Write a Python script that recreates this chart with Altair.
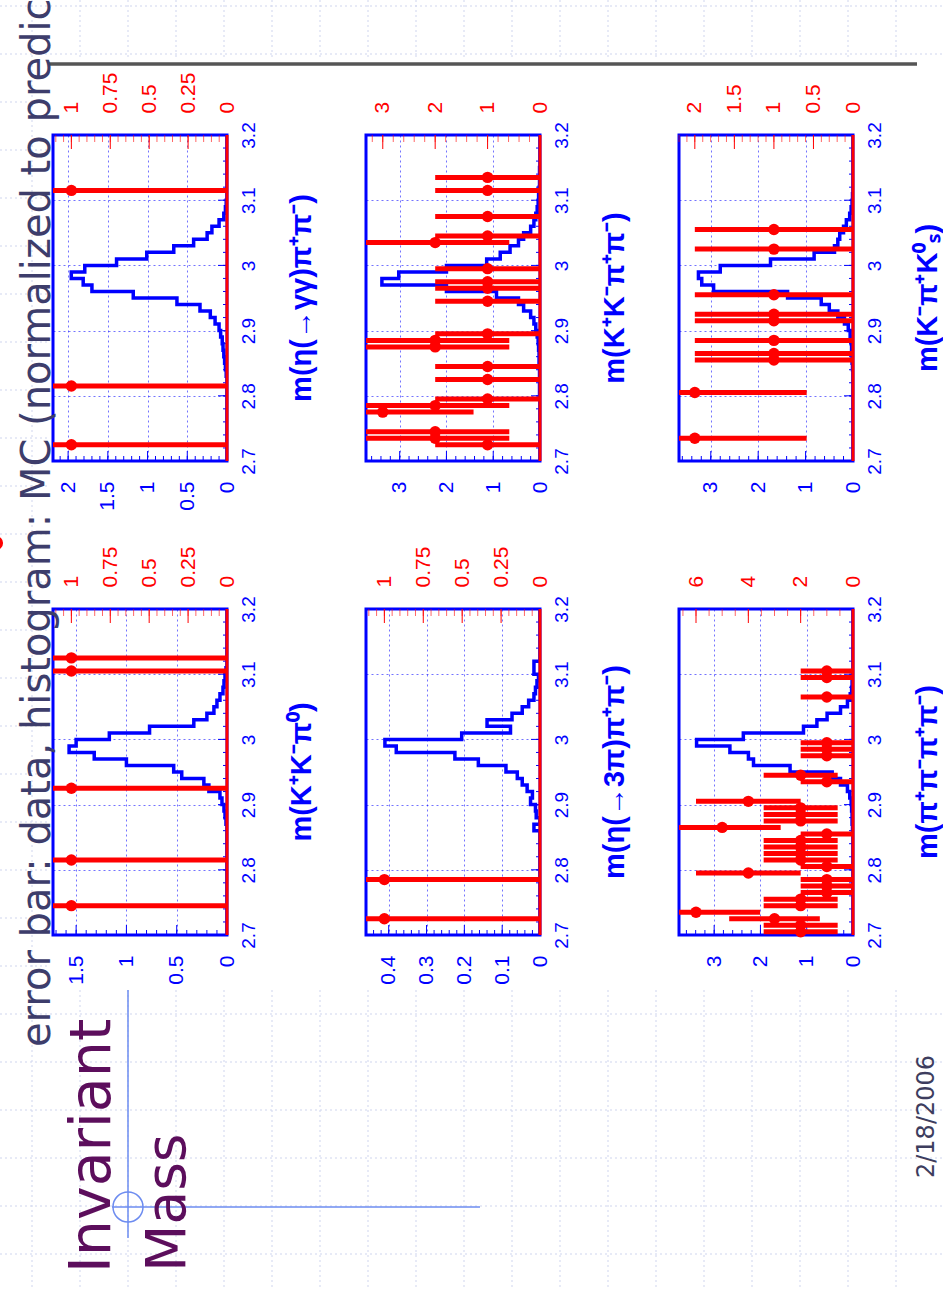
import altair as alt

# ---------------- data ----------------
MASS_MIN, MASS_MAX, BIN_W = 2.7, 3.2, 0.01
MASS_LABELS = [2.7, 2.8, 2.9, 3.0, 3.1, 3.2]

titles = ["m(η(→γγ)π⁺π⁻)", "m(K⁺K⁻π⁺π⁻)", "m(K⁻π⁺K⁰ₛ)",
          "m(K⁺K⁻π⁰)", "m(η(→3π)π⁺π⁻)", "m(π⁺π⁻π⁺π⁻)"]

# MC histograms: 50 bins of width 0.01 starting at 2.70
mc_eta_gg = [0, 0, 0, 0, 0, 0, 0, 0, 0, 0,
             0, 0, 0, 0.01, 0.02, 0.03, 0.04, 0.05, 0.06, 0.08,
             0.10, 0.15, 0.21, 0.34, 0.63, 1.18, 1.70, 1.81, 1.96, 1.79,
             1.39, 1.01, 0.67, 0.42, 0.25, 0.19, 0.10, 0.04, 0.02, 0.01,
             0, 0, 0, 0, 0, 0, 0, 0, 0, 0]
mc_kkpipi = [0, 0, 0, 0, 0, 0, 0, 0, 0, 0,
             0.01, 0.01, 0.01, 0.01, 0.01, 0.02, 0.02, 0.03, 0.04, 0.06,
             0.09, 0.13, 0.20, 0.35, 0.46, 0.93, 2.00, 3.38, 3.02, 2.00,
             1.14, 0.85, 0.64, 0.46, 0.35, 0.20, 0.13, 0.09, 0.06, 0.04,
             0.03, 0.02, 0.01, 0.01, 0.01, 0, 0, 0, 0, 0]
mc_kpiks = [0, 0, 0, 0, 0, 0, 0, 0, 0, 0,
            0, 0, 0, 0, 0.01, 0.02, 0.02, 0.03, 0.04, 0.06,
            0.10, 0.18, 0.32, 0.50, 0.67, 1.38, 2.94, 3.19, 3.26, 2.80,
            1.74, 0.82, 0.39, 0.32, 0.28, 0.20, 0.14, 0.07, 0.04, 0.02,
            0.01, 0, 0, 0, 0, 0, 0, 0, 0, 0]
mc_kkpi0 = [0, 0, 0, 0, 0, 0, 0, 0, 0, 0,
            0, 0, 0, 0, 0, 0, 0, 0.01, 0.02, 0.03,
            0.05, 0.07, 0.18, 0.23, 0.45, 0.53, 1.00, 1.32, 1.57, 1.50,
            1.17, 0.77, 0.33, 0.20, 0.13, 0.10, 0.07, 0.04, 0.03, 0.02,
            0.01, 0, 0, 0, 0, 0, 0, 0, 0, 0]
mc_eta3pi = [0, 0, 0, 0, 0, 0, 0, 0, 0, 0,
             0, 0, 0, 0, 0, 0, 0.016, 0, 0.010, 0.012,
             0.025, 0.020, 0.034, 0.047, 0.060, 0.090, 0.163, 0.225, 0.380, 0.410,
             0.207, 0.078, 0.140, 0.074, 0.047, 0.030, 0.016, 0.012, 0.008, 0.004,
             0.016, 0.016, 0, 0, 0, 0, 0, 0, 0, 0]
mc_4pi = [0, 0, 0, 0, 0, 0, 0, 0, 0, 0,
          0, 0, 0, 0, 0, 0, 0.01, 0.02, 0.02, 0.03,
          0.04, 0.07, 0.12, 0.27, 0.45, 1.36, 2.15, 2.26, 2.66, 3.38,
          2.37, 1.07, 0.78, 0.56, 0.27, 0.12, 0.06, 0.03, 0.02, 0.01,
          0, 0, 0, 0, 0, 0, 0, 0, 0, 0]

# data points: bin-centre mass and number of events
pts_eta_gg_m = [2.725, 2.815, 3.115]
pts_eta_gg_n = [1, 1, 1]
pts_kkpipi_m = [2.725, 2.735, 2.745, 2.775, 2.785, 2.795, 2.825, 2.845, 2.875, 2.885,
                2.895, 2.945, 2.965, 2.975, 2.995, 3.035, 3.045, 3.075, 3.115, 3.135]
pts_kkpipi_n = [1, 2, 2, 3, 2, 1, 1, 1, 2, 2, 1, 1, 1, 1, 1, 2, 1, 1, 1, 1]
pts_kpiks_m = [2.735, 2.805, 2.855, 2.865, 2.885, 2.915, 2.925, 2.955, 3.025, 3.055]
pts_kpiks_n = [2, 2, 1, 1, 1, 1, 1, 1, 1, 1]
pts_kkpi0_m = [2.745, 2.815, 2.925, 3.105, 3.125]
pts_kkpi0_n = [1, 1, 1, 1, 1]
pts_eta3pi_m = [2.725, 2.785]
pts_eta3pi_n = [1, 1]
pts_4pi_m = [2.705, 2.715, 2.725, 2.735, 2.745, 2.755, 2.765, 2.775, 2.785, 2.795,
             2.805, 2.815, 2.825, 2.835, 2.845, 2.855, 2.865, 2.875, 2.885, 2.895,
             2.905, 2.935, 2.945, 2.975, 2.985, 2.995, 3.065, 3.095, 3.105]
pts_4pi_n = [2, 2, 3, 6, 2, 2, 1, 1, 1, 4, 1, 2, 2, 2, 2, 1, 5, 2, 2, 2,
             4, 1, 2, 1, 1, 1, 1, 1, 1]

# axis ranges and tick labels
blue_max = [2.19, 3.72, 3.67, 1.73, 0.46, 3.76]
red_max = [1.118, 3.32, 2.2, 1.118, 1.118, 6.65]
blue_labels = [[0, 0.5, 1, 1.5, 2], [0, 1, 2, 3], [0, 1, 2, 3],
               [0, 0.5, 1, 1.5], [0, 0.1, 0.2, 0.3, 0.4], [0, 1, 2, 3]]
blue_minor = [0.1, 0.2, 0.2, 0.1, 0.02, 0.2]
red_labels = [[0, 0.25, 0.5, 0.75, 1], [0, 1, 2, 3], [0, 0.5, 1, 1.5, 2],
              [0, 0.25, 0.5, 0.75, 1], [0, 0.25, 0.5, 0.75, 1], [0, 2, 4, 6]]
red_minor = [0.05, 0.2, 0.1, 0.05, 0.05, 0.5]

mc_all = [mc_eta_gg, mc_kkpipi, mc_kpiks, mc_kkpi0, mc_eta3pi, mc_4pi]
pm_all = [pts_eta_gg_m, pts_kkpipi_m, pts_kpiks_m, pts_kkpi0_m, pts_eta3pi_m, pts_4pi_m]
pn_all = [pts_eta_gg_n, pts_kkpipi_n, pts_kpiks_n, pts_kkpi0_n, pts_eta3pi_n, pts_4pi_n]

# ---------------- style / layout ----------------
W, H = 174, 326
BLUE, RED = "#0000ff", "#ff0000"
FONT = "Liberation Sans"
SLIDE_FONT = "DejaVu Sans"
CNT_LBL = 21
MASS_LBL = 19
FMT = ".2~f"


def steps(maxv, step):
    n = int(maxv / step + 1e-9)
    return [round(k * step, 4) for k in range(n + 1)]


def mass_y(field, with_axis=False):
    kw = {}
    if with_axis:
        kw["axis"] = alt.Axis(orient="right", values=MASS_LABELS, format=FMT, labelAngle=270,
                              labelAlign="center", labelBaseline="top", labelPadding=12,
                              labelColor=BLUE, labelFontSize=MASS_LBL, labelFont=FONT,
                              grid=True, gridColor=BLUE, gridDash=[2, 3], gridOpacity=0.55,
                              gridWidth=1, domain=False, ticks=False, labelOverlap=False,
                              labelFlush=False)
    return alt.Y(f"{field}:Q", scale=alt.Scale(domain=[MASS_MIN, MASS_MAX], nice=False, zero=False),
                 title="", **kw)


def blue_x(field, i, with_axis=False):
    kw = {}
    if with_axis:
        kw["axis"] = alt.Axis(orient="bottom", values=blue_labels[i], format=FMT, labelAngle=270,
                              labelAlign="right", labelBaseline="middle", labelPadding=20,
                              labelColor=BLUE, labelFontSize=CNT_LBL, labelFont=FONT,
                              grid=True, gridColor=BLUE, gridDash=[2, 3], gridOpacity=0.55,
                              gridWidth=1, domain=False, ticks=False, labelOverlap=False,
                              labelFlush=False)
    return alt.X(f"{field}:Q", scale=alt.Scale(domain=[0, blue_max[i]], reverse=True, nice=False),
                 title="", **kw)


def red_x(field, i, with_axis=False):
    kw = {}
    if with_axis:
        kw["axis"] = alt.Axis(orient="top", values=red_labels[i], format=FMT, labelAngle=270,
                              labelAlign="left", labelBaseline="middle", labelPadding=22,
                              labelColor=RED, labelFontSize=CNT_LBL, labelFont=FONT,
                              grid=False, domain=False, ticks=False, labelOverlap=False,
                              labelFlush=False)
    return alt.X(f"{field}:Q", scale=alt.Scale(domain=[0, red_max[i]], reverse=True, nice=False),
                 title="", **kw)


def hist_rows(counts):
    rows = []
    for k, c in enumerate(counts):
        lo = round(MASS_MIN + k * BIN_W, 3)
        rows.append({"k": 2 * k, "m": lo, "c": c})
        rows.append({"k": 2 * k + 1, "m": round(lo + BIN_W, 3), "c": c})
    return rows


def vals(lst):
    return alt.Data(values=[{"v": v} for v in lst])


def make_panel(i):
    hist = alt.Chart(alt.Data(values=hist_rows(mc_all[i]))).mark_line(
        color=BLUE, strokeWidth=3.5, clip=True).encode(
        x=blue_x("c", i, True), y=mass_y("m", True), order="k:Q")
    bmin = alt.Chart(vals(steps(blue_max[i], blue_minor[i]))).mark_rule(
        color=BLUE, strokeWidth=1).encode(x=blue_x("v", i), y=alt.value(H), y2=alt.value(H - 5))
    bmaj = alt.Chart(vals(blue_labels[i])).mark_rule(
        color=BLUE, strokeWidth=1).encode(x=blue_x("v", i), y=alt.value(H), y2=alt.value(H - 10))
    mmin = alt.Chart(vals(steps(MASS_MAX - MASS_MIN, 0.02))).transform_calculate(
        w="datum.v + 2.7").mark_rule(color=BLUE, strokeWidth=1).encode(
        y=mass_y("w"), x=alt.value(W), x2=alt.value(W - 4))
    mmaj = alt.Chart(vals(MASS_LABELS)).mark_rule(color=BLUE, strokeWidth=1).encode(
        y=mass_y("v"), x=alt.value(W), x2=alt.value(W - 9))
    blue_layer = alt.layer(hist, bmin, bmaj, mmin, mmaj)

    zero = alt.Chart(alt.Data(values=[{"z": 0, "a": MASS_MIN, "b": MASS_MAX}])).mark_rule(
        color=RED, strokeWidth=3).encode(x=red_x("z", i), y=mass_y("a"), y2=alt.Y2("b"))
    rows = [{"m": m, "n": n} for m, n in zip(pm_all[i], pn_all[i])]
    err = alt.Chart(alt.Data(values=rows)).transform_calculate(
        lo="datum.n - sqrt(datum.n)", hi="datum.n + sqrt(datum.n)").mark_rule(
        color=RED, strokeWidth=5, clip=True).encode(
        x=red_x("lo", i), x2=alt.X2("hi"), y=mass_y("m"))
    dots = alt.Chart(alt.Data(values=rows)).mark_circle(color=RED, size=130, opacity=1).encode(
        x=red_x("n", i, True), y=mass_y("m"))
    rmin = alt.Chart(vals(steps(red_max[i], red_minor[i]))).mark_rule(
        color=RED, strokeWidth=1, opacity=0.6).encode(x=red_x("v", i), y=alt.value(0), y2=alt.value(7))
    rmaj = alt.Chart(vals(red_labels[i])).mark_rule(
        color=RED, strokeWidth=1).encode(x=red_x("v", i), y=alt.value(0), y2=alt.value(14))
    red_layer = alt.layer(zero, err, dots, rmin, rmaj)

    label = alt.Chart(alt.Data(values=[{"t": titles[i]}])).mark_text(
        angle=270, align="center", baseline="alphabetic", font=FONT, fontSize=29,
        fontWeight="bold", color=BLUE).encode(text="t:N", x=alt.value(W + 84), y=alt.value(H / 2))

    return alt.layer(blue_layer, red_layer, label).resolve_scale(x="independent").properties(
        width=W, height=H)


# ---------------- slide decorations ----------------
OX, OY = 53, 1083  # origin of the decoration cell (3rd row, 1st column)
one = alt.Data(values=[{"a": 1}])

grid_rows = []
for gx in range(32, 944, 48):
    if gx < 48:
        grid_rows.append({"x": gx - OX, "x2": gx - OX, "y": -OY, "y2": 1289 - OY})
    else:
        grid_rows.append({"x": gx - OX, "x2": gx - OX, "y": -OY, "y2": 60 - OY})
        grid_rows.append({"x": gx - OX, "x2": gx - OX, "y": 990 - OY, "y2": 1289 - OY})
for gy in range(6, 1290, 48):
    if gy < 62 or gy > 990:
        grid_rows.append({"x": -OX, "x2": 943 - OX, "y": gy - OY, "y2": gy - OY})
    else:
        grid_rows.append({"x": -OX, "x2": 48 - OX, "y": gy - OY, "y2": gy - OY})

slide_grid = alt.Chart(alt.Data(values=grid_rows)).mark_rule(
    color="#cfd5ee", strokeWidth=1, strokeDash=[2, 3]).encode(
    x=alt.X("x:Q", scale=None, axis=None), x2=alt.X2("x2"),
    y=alt.Y("y:Q", scale=None, axis=None), y2=alt.Y2("y2"))

gray_line = alt.Chart(one).mark_rule(color="#555555", strokeWidth=3.5).encode(
    x=alt.value(48 - OX), x2=alt.value(917 - OX), y=alt.value(64 - OY))
blue_v = alt.Chart(one).mark_rule(color="#6d8cf0", strokeWidth=1.5).encode(
    x=alt.value(128 - OX), y=alt.value(990 - OY), y2=alt.value(1238 - OY))
blue_h = alt.Chart(one).mark_rule(color="#6d8cf0", strokeWidth=1.5).encode(
    x=alt.value(112 - OX), x2=alt.value(480 - OX), y=alt.value(1207 - OY))
ring = alt.Chart(one).mark_point(shape="circle", filled=False, size=900, color="#6d8cf0",
                                 strokeWidth=1.5, opacity=1).encode(
    x=alt.value(128 - OX), y=alt.value(1207 - OY))
bullet = alt.Chart(one).mark_circle(color=RED, size=200, opacity=1).encode(
    x=alt.value(-4 - OX), y=alt.value(543 - OY))

title_txt = alt.Chart(one).mark_text(
    angle=270, align="left", baseline="alphabetic", font=SLIDE_FONT, fontSize=40,
    color="#3d3d6b").encode(
    text=alt.value("error bar: data, histogram: MC (normalized to predic"),
    x=alt.value(50 - OX), y=alt.value(1047 - OY))
inv_txt = alt.Chart(one).mark_text(
    angle=270, align="left", baseline="alphabetic", font=SLIDE_FONT, fontSize=57,
    color="#5c0e5c").encode(text=alt.value("Invariant"),
                            x=alt.value(110 - OX), y=alt.value(1273 - OY))
mass_txt = alt.Chart(one).mark_text(
    angle=270, align="left", baseline="alphabetic", font=SLIDE_FONT, fontSize=55,
    color="#5c0e5c").encode(text=alt.value("Mass"),
                            x=alt.value(185 - OX), y=alt.value(1272 - OY))
date_txt = alt.Chart(one).mark_text(
    angle=270, align="left", baseline="alphabetic", font=SLIDE_FONT, fontSize=24,
    color="#3d3d5e").encode(text=alt.value("2/18/2006"),
                            x=alt.value(934 - OX), y=alt.value(1178 - OY))

deco = alt.layer(slide_grid, gray_line, blue_v, blue_h, ring, bullet,
                 title_txt, inv_txt, mass_txt, date_txt).properties(
    width=W, height=H, view=alt.ViewBackground(stroke="transparent"))

panels = [make_panel(i) for i in range(6)]

chart = alt.concat(*panels, deco, columns=3, spacing={"row": 148, "column": 139},
                   bounds="flush").properties(
    autosize=alt.AutoSizeParams(type="none"),
    padding={"left": 53, "top": 135, "right": 943 - 53, "bottom": 1289 - 135},
    background="white",
).configure_view(stroke=BLUE, strokeWidth=3).configure_axis(labelFont=FONT)

chart.save("out.html", embed_options={"renderer": "svg", "actions": False})
